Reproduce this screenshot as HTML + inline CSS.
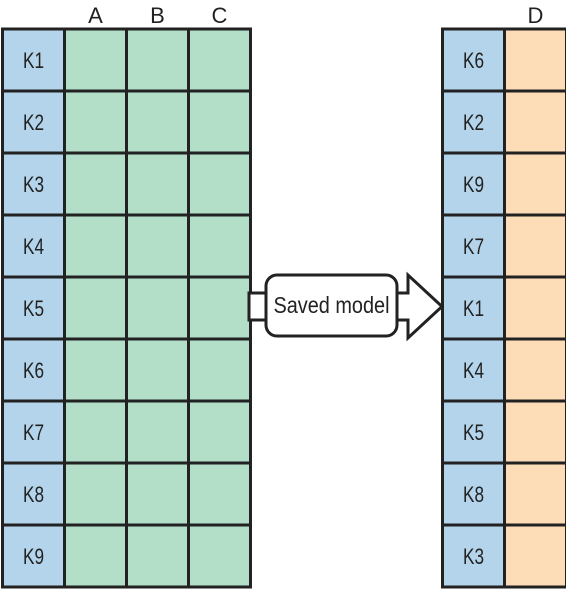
<!DOCTYPE html>
<html><head><meta charset="utf-8"><style>
html,body{margin:0;padding:0;background:#fff;}
svg{display:block;font-family:"Liberation Sans",sans-serif;}
</style></head><body>
<svg id="c" width="566" height="589" viewBox="0 0 566 589">
<g id="arrow">
<path d="M249 293 H408 V275 L442 306.5 L408 338 V320 H249 Z" fill="#fff" stroke="#222" stroke-width="3" stroke-linejoin="miter"/>
<rect x="266" y="275" width="131" height="61" rx="11" fill="#fff" stroke="#222" stroke-width="3"/>
<text x="331.5" y="313" font-size="23" text-anchor="middle" fill="#222" textLength="116" lengthAdjust="spacingAndGlyphs">Saved model</text>
</g>
</svg>
<script>
const leftKeys=["K1","K2","K3","K4","K5","K6","K7","K8","K9"];
const leftCols=["A","B","C"];
const rightKeys=["K6","K2","K9","K7","K1","K4","K5","K8","K3"];
const rightCols=["D"];
const svg=document.getElementById('c');
const NS="http://www.w3.org/2000/svg";
const top0=29,rowH=62,colW=62;
function mk(t,a){const e=document.createElementNS(NS,t);for(const k in a)e.setAttribute(k,a[k]);return e;}
function table(x0,keys,cols,fill,name){
  const g=mk('g',{});
  
  
  keys.forEach((k,i)=>{
    const y=top0+i*rowH;
    const kc=mk('rect',{x:x0,y:y,width:colW,height:rowH,fill:'#b3d4ea',stroke:'#222','stroke-width':3});
    
    
    g.appendChild(kc);
    const t=mk('text',{x:x0+colW/2,y:y+rowH/2+8,'font-size':22,'text-anchor':'middle',fill:'#222',textLength:21,lengthAdjust:'spacingAndGlyphs'});
    t.textContent=k;
    
    
    g.appendChild(t);
    cols.forEach((c,j)=>{
      const r=mk('rect',{x:x0+colW*(j+1),y:y,width:colW,height:rowH,fill:fill,stroke:'#222','stroke-width':3});
      
      
      g.appendChild(r);
    });
  });
  cols.forEach((c,j)=>{
    const t=mk('text',{x:x0+colW*(j+1)+colW/2,y:23,'font-size':22,'text-anchor':'middle',fill:'#222'});
    t.textContent=c;
    
    
    g.appendChild(t);
  });
  svg.insertBefore(g,svg.firstChild);
}
table(2.5,leftKeys,leftCols,'#b3dfc9','left-table');
table(442.5,rightKeys,rightCols,'#fddcb8','right-table');
</script>
</body></html>
